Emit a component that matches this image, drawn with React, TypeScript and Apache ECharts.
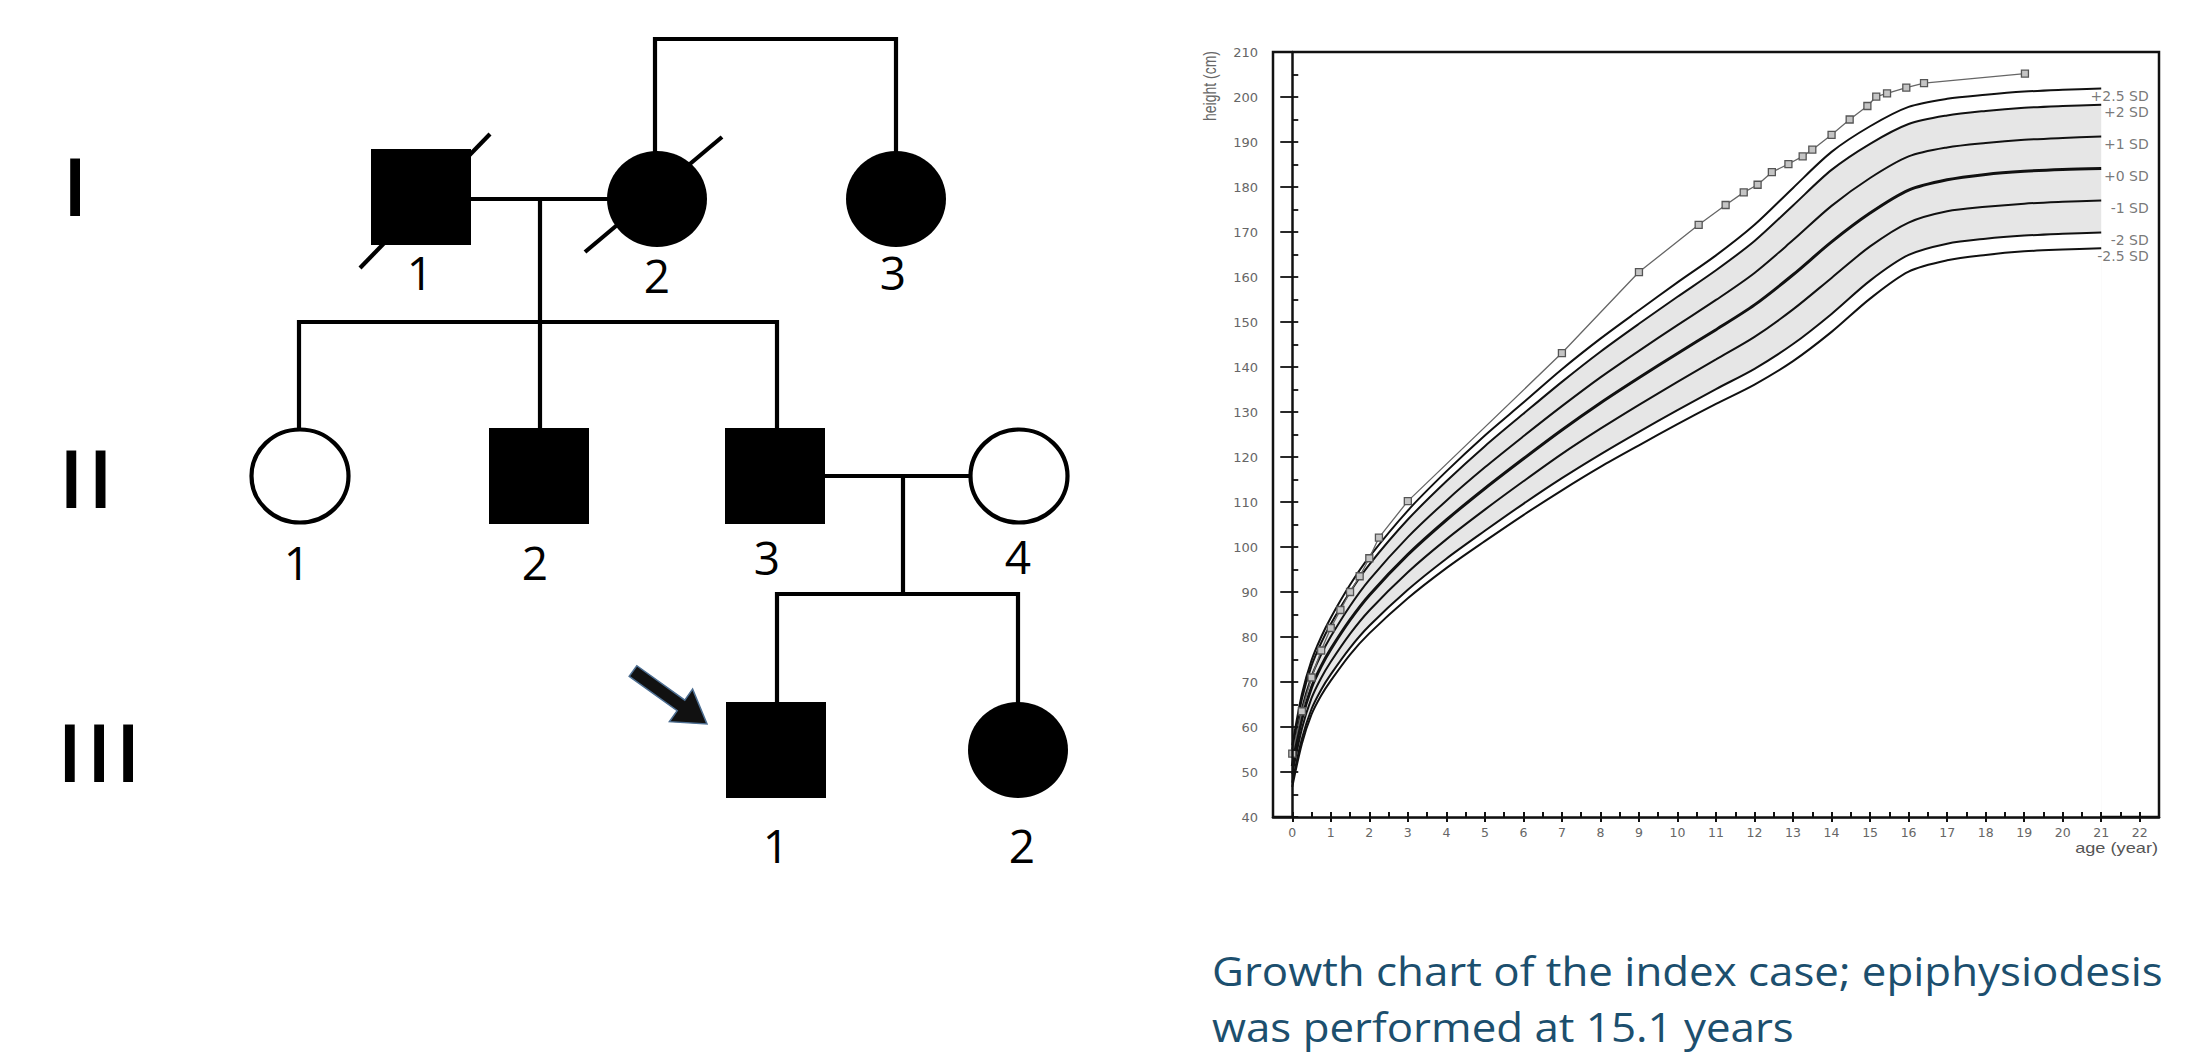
import React, { useEffect, useRef } from "react";
import * as echarts from "echarts";

// ---------- growth chart data ----------
const sdAges = [0, 0.25, 0.5, 0.75, 1, 1.5, 2, 3, 4, 5, 6, 7, 8, 9, 10, 11, 12, 13, 14, 15, 16, 17, 18, 19, 20, 21];
const sdPlus25 = [55.9, 67.3, 74.8, 80.0, 84.3, 91.6, 97.8, 108.1, 116.8, 124.8, 132.1, 139.5, 146.3, 152.6, 158.8, 164.8, 171.6, 179.8, 187.8, 193.5, 197.8, 199.6, 200.5, 201.2, 201.6, 201.9];
const sdPlus2 = [55.0, 66.2, 73.6, 78.7, 82.9, 90.0, 96.1, 106.1, 114.6, 122.4, 129.6, 136.7, 143.4, 149.6, 155.6, 161.5, 168.0, 175.9, 183.8, 189.6, 194.0, 195.9, 196.9, 197.6, 198.0, 198.3];
const sdPlus1 = [53.2, 64.0, 71.2, 76.1, 80.1, 86.9, 92.7, 102.2, 110.3, 117.7, 124.6, 131.3, 137.7, 143.6, 149.3, 154.9, 160.9, 168.2, 175.8, 182.0, 186.8, 188.8, 189.8, 190.5, 190.9, 191.2];
const sdMean = [51.3, 61.8, 68.8, 73.5, 77.3, 83.8, 89.3, 98.3, 106.0, 113.0, 119.6, 126.0, 132.0, 137.6, 143.0, 148.3, 153.8, 160.5, 167.8, 174.2, 179.3, 181.6, 182.8, 183.5, 183.9, 184.1];
const sdMinus1 = [49.5, 59.6, 66.4, 70.9, 74.5, 80.7, 85.9, 94.4, 101.7, 108.3, 114.6, 120.7, 126.3, 131.6, 136.7, 141.7, 146.7, 152.8, 159.8, 166.8, 172.1, 174.6, 175.6, 176.3, 176.7, 177.0];
const sdMinus2 = [47.6, 57.4, 64.0, 68.3, 71.7, 77.6, 82.5, 90.5, 97.4, 103.6, 109.6, 115.3, 120.6, 125.6, 130.4, 135.1, 139.6, 145.1, 151.8, 159.2, 164.9, 167.4, 168.5, 169.2, 169.6, 169.9];
const sdMinus25 = [46.7, 56.3, 62.8, 67.0, 70.3, 76.1, 80.8, 88.6, 95.3, 101.3, 107.1, 112.6, 117.8, 122.6, 127.3, 131.8, 136.1, 141.3, 147.8, 155.2, 161.2, 163.7, 164.9, 165.7, 166.1, 166.4];
const sdNames = ["+2.5 SD", "+2 SD", "+1 SD", "+0 SD", "-1 SD", "-2 SD", "-2.5 SD"];

const patientAges = [0, 0.25, 0.5, 0.75, 1, 1.25, 1.5, 1.75, 2, 2.25, 3, 7, 9, 10.55, 11.25, 11.72, 12.08, 12.45, 12.88, 13.25, 13.5, 14.0, 14.47, 14.93, 15.16, 15.44, 15.94, 16.4, 19.02];
const patientHeights = [54.1, 63.5, 71.0, 77.0, 82.0, 86.0, 90.0, 93.5, 97.5, 102.1, 110.2, 143.1, 161.1, 171.6, 176.0, 178.8, 180.5, 183.3, 185.1, 186.8, 188.3, 191.6, 195.0, 198.0, 200.1, 200.8, 202.1, 203.1, 205.2];

const xTickValues = [0, 1, 2, 3, 4, 5, 6, 7, 8, 9, 10, 11, 12, 13, 14, 15, 16, 17, 18, 19, 20, 21, 22];
const xMinorTickValues = [0.5, 1.5, 2.5, 3.5, 4.5, 5.5, 6.5, 7.5, 8.5, 9.5, 10.5, 11.5, 12.5, 13.5, 14.5, 15.5, 16.5, 17.5, 18.5, 19.5, 20.5, 21.5];

const xAxisTitle = "age (year)";
const yAxisTitle = "height (cm)";
const caption = "Growth chart of the index case; epiphysiodesis\nwas performed at 15.1 years";

// ---------- pedigree texts ----------
const generationLabels = ["I", "II", "III"];
const genI = ["1", "2", "3"];
const genII = ["1", "2", "3", "4"];
const genIII = ["1", "2"];

const curves = [sdPlus25, sdPlus2, sdPlus1, sdMean, sdMinus1, sdMinus2, sdMinus25];
const zip = (xs: number[], ys: number[]) => xs.map((x, i) => [x, ys[i]]);

const LW = 4.2;
const BLACK = "#000";
const HW = 50; // half width of pedigree symbols
const HH = 48; // half height of pedigree symbols

function line(x1: number, y1: number, x2: number, y2: number) {
  return { type: "line", silent: true, shape: { x1, y1, x2, y2 }, style: { stroke: BLACK, lineWidth: LW } };
}
function square(cx: number, cy: number) {
  return { type: "rect", silent: true, shape: { x: cx - HW, y: cy - HH, width: 2 * HW, height: 2 * HH }, style: { fill: BLACK } };
}
function circ(cx: number, cy: number, filled: boolean) {
  return {
    type: "ellipse",
    silent: true,
    shape: { cx, cy, rx: filled ? HW : HW - 1.5, ry: filled ? HH : HH - 1.5 },
    style: { fill: filled ? BLACK : "#fff", stroke: BLACK, lineWidth: filled ? 0 : LW },
  };
}
function num(text: string, x: number, y: number) {
  return {
    type: "text",
    silent: true,
    x,
    y,
    style: {
      text,
      fill: BLACK,
      fontSize: 46,
      fontFamily: "Open Sans",
      align: "center",
      verticalAlign: "middle",
      textAlign: "center",
      textVerticalAlign: "middle",
    },
  };
}
function roman(text: string, x: number, y: number) {
  return {
    type: "text",
    silent: true,
    x,
    y,
    scaleX: 1.25,
    style: {
      text,
      fill: BLACK,
      fontSize: 84,
      fontFamily: "Liberation Sans",
      align: "center",
      verticalAlign: "middle",
      textAlign: "center",
      textVerticalAlign: "middle",
    },
  };
}

const pedigree: any[] = [
  // top bracket joining I-2 and I-3
  line(655, 39, 896, 39),
  line(655, 37, 655, 152),
  line(896, 37, 896, 152),
  // generation I
  line(470, 199, 608, 199),
  line(540, 199, 540, 322),
  line(360, 268, 490, 134),
  line(585, 252, 722, 137),
  square(421, 197),
  circ(657, 199, true),
  circ(896, 199, true),
  // sibship II
  line(298, 322, 778, 322),
  line(299, 320, 299, 429),
  line(540, 320, 540, 429),
  line(777, 320, 777, 429),
  // generation II
  line(824, 476, 970, 476),
  line(903, 476, 903, 594),
  circ(300, 476, false),
  square(539, 476),
  square(775, 476),
  circ(1019, 476, false),
  // sibship III
  line(776, 594, 1019, 594),
  line(777, 592, 777, 703),
  line(1018, 592, 1018, 703),
  square(776, 750),
  circ(1018, 750, true),
  // proband arrow
  {
    type: "polygon",
    silent: true,
    shape: {
      points: [
        [629.2, 676.3],
        [677.2, 710.7],
        [669.4, 721.7],
        [707, 724],
        [692.6, 689.1],
        [684.8, 700.1],
        [636.8, 665.7],
      ],
    },
    style: { fill: "#111", stroke: "#4d6e91", lineWidth: 1.5 },
  },
  num(genI[0], 420, 272),
  num(genI[1], 657, 275),
  num(genI[2], 893, 272),
  num(genII[0], 297, 562),
  num(genII[1], 535, 562),
  num(genII[2], 767, 557),
  num(genII[3], 1018, 556),
  num(genIII[0], 776, 845),
  num(genIII[1], 1022, 845),
  roman(generationLabels[0], 75, 187),
  roman(generationLabels[1], 86, 479),
  roman(generationLabels[2], 99, 753),
];

const chartTexts: any[] = [
  {
    type: "text",
    silent: true,
    x: 1209,
    y: 86,
    rotation: Math.PI / 2,
    scaleY: 1.3,
    style: {
      text: yAxisTitle,
      fill: "#666",
      fontSize: 14,
      fontFamily: "Liberation Sans",
      align: "center",
      verticalAlign: "middle",
      textAlign: "center",
      textVerticalAlign: "middle",
    },
  },
  {
    type: "text",
    silent: true,
    x: 2158,
    y: 848,
    scaleX: 1.3,
    style: {
      text: xAxisTitle,
      fill: "#555",
      fontSize: 14,
      fontFamily: "Liberation Sans",
      align: "right",
      verticalAlign: "middle",
      textAlign: "right",
      textVerticalAlign: "middle",
    },
  },
  {
    type: "text",
    silent: true,
    x: 1212,
    y: 942,
    scaleX: 1.07,
    style: {
      text: caption,
      fill: "#1c4f6e",
      fontSize: 41,
      lineHeight: 56,
      fontFamily: "Open Sans",
      align: "left",
      verticalAlign: "top",
      textAlign: "left",
      textVerticalAlign: "top",
    },
  },
];

const lineSeries = curves.map((c, i) => ({
  type: "line",
  name: sdNames[i],
  data: zip(sdAges, c),
  smooth: 0.3,
  symbol: "none",
  silent: true,
  z: 3,
  lineStyle: { color: "#111", width: i === 3 ? 3 : 2 },
}));

const option: any = {
  animation: false,
  backgroundColor: "#fff",
  grid: {
    left: 1273,
    top: 52,
    width: 886,
    height: 765,
    show: true,
    borderColor: "#111",
    borderWidth: 2.5,
    backgroundColor: "transparent",
  },
  xAxis: [
    {
      type: "value",
      min: -0.5,
      max: 22.5,
      position: "bottom",
      z: 10,
      splitLine: { show: false },
      axisLine: { show: true, lineStyle: { color: "#111", width: 2.5 } },
      axisTick: { show: true, customValues: xTickValues, inside: false, length: 5, lineStyle: { color: "#111", width: 2 } },
      axisLabel: {
        show: true,
        customValues: xTickValues,
        margin: 9,
        fontSize: 12.5,
        color: "#666",
        fontFamily: "DejaVu Sans",
      },
    },
    {
      type: "value",
      min: -0.5,
      max: 22.5,
      position: "bottom",
      z: 10,
      splitLine: { show: false },
      axisLine: { show: false },
      axisTick: {
        show: true,
        customValues: [...xTickValues, ...xMinorTickValues],
        inside: true,
        length: 5,
        lineStyle: { color: "#111", width: 2 },
      },
      axisLabel: { show: false },
    },
  ],
  yAxis: [
    {
      type: "value",
      min: 40,
      max: 210,
      interval: 10,
      position: "left",
      z: 10,
      splitLine: { show: false },
      axisLine: { show: true, lineStyle: { color: "#111", width: 2.5 } },
      axisTick: { show: true, inside: false, length: 12, lineStyle: { color: "#111", width: 1.8 } },
      axisLabel: { margin: 15, fontSize: 13, color: "#666", fontFamily: "DejaVu Sans" },
    },
    {
      type: "value",
      min: 40,
      max: 210,
      interval: 5,
      position: "left",
      offset: 0,
      z: 10,
      splitLine: { show: false },
      axisLine: { show: false },
      axisTick: { show: true, inside: true, length: 6, lineStyle: { color: "#111", width: 1.8 } },
      axisLabel: { show: false },
    },
  ],
  series: [
    // grey band between -2 SD and +2 SD: grey down to the axis, then white below -2 SD
    {
      type: "line",
      name: "band-top",
      data: zip(sdAges, sdPlus2),
      smooth: 0.3,
      symbol: "none",
      silent: true,
      z: 1,
      lineStyle: { width: 0, opacity: 0 },
      areaStyle: { color: "#e6e6e6", opacity: 1, origin: "start" },
    },
    {
      type: "line",
      name: "band-bottom",
      data: zip(sdAges, sdMinus2),
      smooth: 0.3,
      symbol: "none",
      silent: true,
      z: 1,
      lineStyle: { width: 0, opacity: 0 },
      areaStyle: { color: "#ffffff", opacity: 1, origin: "start" },
    },
    ...lineSeries,
    {
      type: "line",
      name: "index case",
      data: zip(patientAges, patientHeights),
      symbol: "rect",
      symbolSize: 7,
      silent: true,
      z: 4,
      lineStyle: { color: "#666", width: 1.3 },
      itemStyle: { color: "#c4c4c4", borderColor: "#555", borderWidth: 1.3 },
    },
    {
      type: "scatter",
      name: "sd-labels",
      silent: true,
      z: 5,
      clip: false,
      symbolSize: 1,
      itemStyle: { color: "transparent" },
      data: curves.map((c, i) => ({
        value: [sdAges[sdAges.length - 1], c[c.length - 1]],
        name: sdNames[i],
      })),
      label: {
        show: true,
        formatter: "{b}",
        position: [48, 8],
        align: "right",
        verticalAlign: "middle",
        fontSize: 14,
        color: "#555",
        fontFamily: "DejaVu Sans",
      },
    },
  ],
  graphic: [...pedigree, ...chartTexts],
};

export default function App() {
  const ref = useRef<HTMLDivElement>(null);
  useEffect(() => {
    if (!ref.current) return;
    const chart = echarts.init(ref.current, null, { renderer: "svg" });
    chart.setOption(option);
    return () => chart.dispose();
  }, []);
  return (
    <div
      ref={ref}
      style={{ position: "fixed", left: 0, top: 0, width: 2195, height: 1056, background: "#fff" }}
    />
  );
}
